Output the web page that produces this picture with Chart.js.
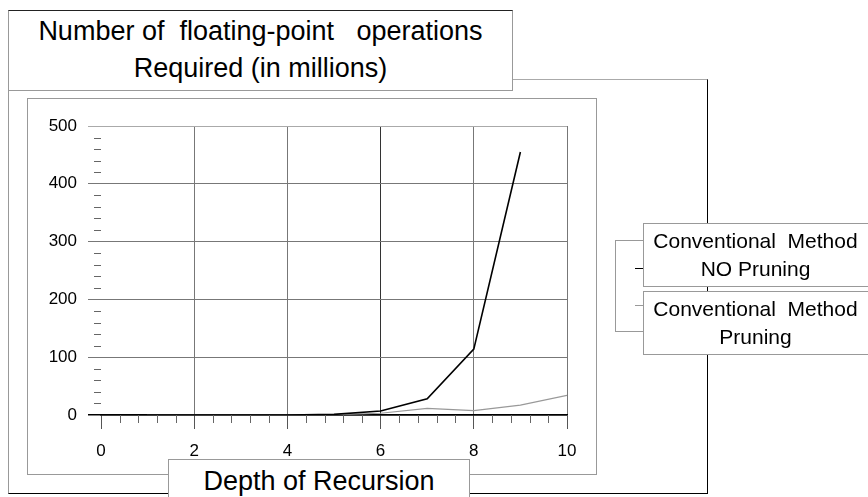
<!DOCTYPE html>
<html lang="en">
<head>
  <meta charset="UTF-8">
  <title>Floating-point operations vs depth of recursion</title>
  <script src="https://cdn.jsdelivr.net/npm/chart.js"></script>
  <style>
    body { margin: 0; width: 868px; height: 497px; overflow: hidden; background: #fff;
           font-family: "Liberation Sans", Arial, sans-serif; color: #000; position: relative; }
    .box { position: absolute; box-sizing: border-box; background: #fff; }
    #outer { left: 8px; top: 79px; width: 700px; height: 415px; background: transparent;
             border-top: 1.5px solid #aaa; border-left: 1.5px solid #999;
             border-right: 1.5px solid #000; border-bottom: 1.5px solid #000; }
    #inner { left: 27px; top: 98px; width: 570px; height: 377px; background: transparent;
             border: 1.5px solid #999; }
    #chart { position: absolute; left: 0; top: 0; }
    #title { left: 8px; top: 10px; width: 505px; height: 81px; text-align: center;
             font-size: 27px; line-height: 37px; padding-top: 2px; white-space: pre;
             border-top: 1.5px solid #222; border-left: 1.5px solid #999;
             border-right: 1.5px solid #999; border-bottom: 1.5px solid #999; }
    #xlabel { left: 168px; top: 459px; width: 302px; height: 50px; text-align: center;
              font-size: 27px; line-height: 42px; border: 1.5px solid #999; }
    .leg { left: 643px; width: 240px; text-align: center; font-size: 21px; line-height: 28px;
           white-space: pre; border: 1.5px solid #999; padding-right: 15px; }
    #leg1 { top: 223px; height: 64px; padding-top: 3px; }
    #leg2 { top: 291px; height: 64px; padding-top: 3px; }
    #bracket { position: absolute; left: 615px; top: 240px; width: 28px; height: 92px; box-sizing: border-box;
               border-left: 1.5px solid #999; border-top: 1.5px solid #999; border-bottom: 1.5px solid #999; }
    .sample { position: absolute; left: 635px; width: 8px; height: 0; }
  </style>
</head>
<body>
  <div class="box" id="outer"></div>
  <div class="box" id="inner"></div>
  <canvas id="chart" width="868" height="497"></canvas>

  <div class="box" id="title">Number of  floating-point   operations
Required (in millions)</div>
  <div class="box" id="xlabel">Depth of Recursion</div>

  <div id="bracket"></div>
  <div class="sample" style="top:268px;border-top:1.5px solid #000"></div>
  <div class="sample" style="top:305px;border-top:1.5px solid #999"></div>
  <div class="box leg" id="leg1">Conventional  Method
NO Pruning</div>
  <div class="box leg" id="leg2">Conventional  Method
Pruning</div>

  <script>
    // values (millions of flops)
    const depth = [1, 2, 3, 4, 5, 6, 7, 8, 9, 10];
    const noPruning = [0, 0, 0, 0, 1, 7, 28, 114, 455, null];
    const pruning = [0, 0, 0, 0, 0.5, 3, 11.5, 7.5, 17, 34];
    const seriesNames = ['Conventional Method NO Pruning', 'Conventional Method Pruning'];
    const xTicks = [0, 2, 4, 6, 8, 10];
    const yTicks = [0, 100, 200, 300, 400, 500];

    const tickFont = { family: '"Liberation Sans", Arial, sans-serif', size: 17 };

    // small minor tick marks, placed through the chart's own scales
    const minorTicks = {
      id: 'minorTicks',
      afterDraw(chart) {
        const { ctx, scales: { x, y } } = chart;
        ctx.save();
        ctx.strokeStyle = '#666';
        ctx.lineWidth = 1;
        for (let v = 20; v < 500; v += 20) {
          if (v % 100 === 0) continue;
          const py = Math.round(y.getPixelForValue(v)) + 0.5;
          ctx.beginPath();
          ctx.moveTo(x.left - 7, py);
          ctx.lineTo(x.left, py);
          ctx.stroke();
        }
        for (let i = 1; i < 25; i++) {
          if (i % 5 === 0) continue;
          const px = Math.round(x.getPixelForValue(i * 0.4)) + 0.5;
          ctx.beginPath();
          ctx.moveTo(px, y.bottom);
          ctx.lineTo(px, y.bottom + 8);
          ctx.stroke();
        }
        ctx.restore();
      }
    };

    new Chart(document.getElementById('chart'), {
      type: 'line',
      data: {
        datasets: [
          {
            label: seriesNames[0],
            data: depth.map((d, i) => ({ x: d, y: noPruning[i] })),
            borderColor: '#000',
            borderWidth: 1.6,
            pointRadius: 0,
            tension: 0
          },
          {
            label: seriesNames[1],
            data: depth.map((d, i) => ({ x: d, y: pruning[i] })),
            borderColor: '#999',
            borderWidth: 1.2,
            pointRadius: 0,
            tension: 0
          }
        ]
      },
      options: {
        responsive: false,
        animation: false,
        layout: { padding: { left: 0, right: 301, top: 126, bottom: 0 } },
        plugins: { legend: { display: false }, tooltip: { enabled: false } },
        scales: {
          x: {
            type: 'linear',
            min: 0,
            max: 10,
            afterBuildTicks: s => { s.ticks = xTicks.map(v => ({ value: v })); },
            afterFit: s => { s.height = 82; },
            ticks: { font: tickFont, color: '#000', padding: 12, maxRotation: 0 },
            grid: {
              color: c => c.tick && c.tick.value === 0 ? 'rgba(0,0,0,0)' : (c.tick && c.tick.value === 6 ? '#333' : '#777'),
              tickColor: '#555',
              tickLength: 14,
              lineWidth: 1
            },
            border: { color: '#000', width: 1.5 }
          },
          y: {
            min: 0,
            max: 500,
            afterBuildTicks: s => { s.ticks = yTicks.map(v => ({ value: v })); },
            afterFit: s => { s.width = 101; },
            ticks: { font: tickFont, color: '#000', padding: 11 },
            grid: {
              color: c => c.tick && c.tick.value === 0 ? '#000' : (c.tick && c.tick.value === 500 ? '#aaa' : '#777'),
              tickLength: 13,
              lineWidth: c => c.tick && c.tick.value === 0 ? 1.5 : 1
            },
            border: { display: false }
          }
        }
      },
      plugins: [minorTicks]
    });
  </script>
</body>
</html>
